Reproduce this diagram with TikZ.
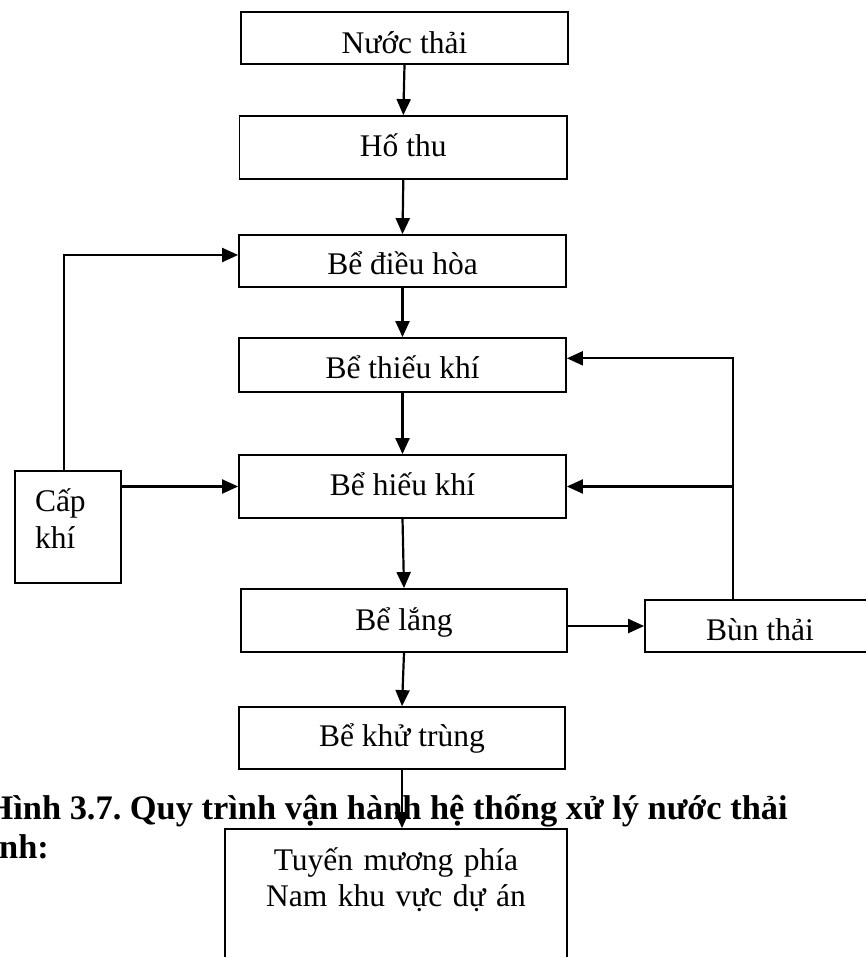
\documentclass[tikz,border=0pt]{standalone}
\usepackage{fontspec}
\setmainfont{Liberation Serif}
\usetikzlibrary{arrows.meta}
\frenchspacing
\newcommand\bodyfont{\fontsize{31.5}{36.5}\selectfont}
\newcommand\capfont{\fontsize{34.4}{38}\selectfont\bfseries}
\begin{document}
\begin{tikzpicture}[x=1pt,y=-1pt,
  box/.style={draw, line width=1.8pt, inner sep=0pt, font=\bodyfont, text height=35pt, text depth=#1},
  box/.default=10pt,
  flow/.style={line width=2.2pt, -{Triangle[length=16pt,width=14pt]}},
  plain/.style={line width=2.2pt}]
\useasboundingbox[fill=white] (0,0) rectangle (866,957);

% caption text overlapping the figure
\node[anchor=base west, inner sep=0pt, font=\capfont] (cap1) at (-13.6,819.5) {Hình 3.7. Quy trình vận hành hệ thống xử lý nước thải};
\node[anchor=base west, inner sep=0pt, font=\capfont] (cap2) at (-1,858) {nh:};

% boxes
\node[box=4.4pt,  minimum width=327pt,   minimum height=52pt] (n1) at (404.5,38)   {Nước thải};
\node[box=16.6pt, minimum width=327.5pt, minimum height=63pt] (n2) at (403.3,147.5) {Hố thu};
\node[box=7pt,    minimum width=327pt,   minimum height=52pt] (n3) at (402.5,261)  {Bể điều hòa};
\node[box=9pt,    minimum width=327pt,   minimum height=54pt] (n4) at (402.5,365)  {Bể thiếu khí};
\node[box=18pt,   minimum width=327pt,   minimum height=63pt] (n5) at (402.5,486.5) {Bể hiếu khí};
\node[box=16pt,   minimum width=326pt,   minimum height=63pt] (n6) at (404,620.5)  {Bể lắng};
\node[box=17.6pt, minimum width=326pt,   minimum height=62pt] (n7) at (402,738)    {Bể khử trùng};
\node[box=7pt,    minimum width=230pt,   minimum height=52pt] (bt) at (760,626)    {Bùn thải};
\node[draw, line width=1.8pt, font=\bodyfont, align=left, text width=66pt,
      inner xsep=20pt, inner ysep=0pt, minimum width=106pt, minimum height=112pt,
      text height=28pt, text depth=58.6pt] (ck) at (68,527) {Cấp\\khí};
\node[draw, line width=1.8pt, font=\bodyfont, align=center, text width=300pt,
      inner sep=0pt, minimum width=342pt, minimum height=171pt,
      text height=28pt, text depth=117pt] (n8) at (396,914.5) {Tuyến mương phía\\Nam khu vực dự án};

% main flow
\draw[flow] (n1.south) -- (n2.north);
\draw[flow] (n2.south) -- (n3.north);
\draw[flow] (n3.south) -- (n4.north);
\draw[flow] (n4.south) -- (n5.north);
\draw[flow] (n5.south) -- (n6.north);
\draw[flow] (n6.south) -- (n7.north);
\draw[flow] (n7.south) -- (n7.south |- n8.north);

% air supply
\draw[flow] ([xshift=-4pt]ck.north) |- ([yshift=6pt]n3.west);
\draw[flow] (ck.east |- n5.west) -- (n5.west);

% sludge
\draw[flow] (n6.east |- bt.west) -- (bt.west);
\coordinate (tap) at ([xshift=-27pt]bt.north);
\draw[flow] (tap) |- ([yshift=6.7pt]n4.east);
\draw[flow] (tap |- n5.east) -- (n5.east);
\end{tikzpicture}
\end{document}
